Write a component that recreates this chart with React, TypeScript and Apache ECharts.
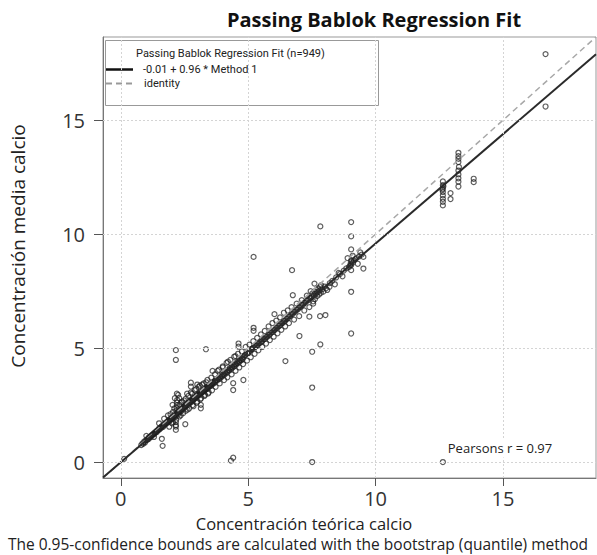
import React, { useEffect, useRef } from "react";
import * as echarts from "echarts";

// ---------- data ----------
const titleText = "Passing Bablok Regression Fit";
const xName = "Concentración teórica calcio";
const yName = "Concentración media calcio";
const footnote = "The 0.95-confidence bounds are calculated with the bootstrap (quantile) method";
const legendTitle = "Passing Bablok Regression Fit (n=949)";
const legendFit = "-0.01 + 0.96 * Method 1";
const legendIdentity = "identity";
const pearsonText = "Pearsons r = 0.97";

const xTicks = [0, 5, 10, 15];
const yTicks = [0, 5, 10, 15];
const axisMin = -0.7;
const axisMax = 18.65;

const fitIntercept = -0.01;
const fitSlope = 0.96;

const bandLow: number[][] = [
  [0.80, 0.74], [0.85, 0.82], [0.88, 0.80], [0.92, 0.90], [0.95, 0.86], [0.98, 0.95], [1.02, 0.97], [1.05, 0.99],
  [1.08, 1.06], [1.10, 1.02], [1.12, 1.10], [1.15, 1.08], [1.18, 1.15], [1.20, 1.12], [1.22, 1.19], [1.25, 1.20],
  [1.28, 1.22], [1.30, 1.27], [1.32, 1.24], [1.35, 1.31], [1.38, 1.30], [1.40, 1.36], [1.42, 1.33], [1.45, 1.41],
  [1.48, 1.40], [1.50, 1.47], [1.52, 1.44], [1.55, 1.52], [1.58, 1.49], [1.60, 1.55],
  [1.62, 1.58], [1.65, 1.54], [1.68, 1.63], [1.70, 1.60], [1.72, 1.69], [1.75, 1.66], [1.78, 1.72], [1.80, 1.70],
  [1.82, 1.78], [1.85, 1.75], [1.88, 1.83], [1.90, 1.80], [1.92, 1.88], [1.95, 1.84], [1.98, 1.92], [2.00, 1.90],
  [2.02, 1.97], [2.05, 1.93], [2.08, 2.02], [2.10, 1.98], [2.12, 2.06], [2.15, 2.01], [2.16, 1.62], [2.16, 1.75],
  [2.17, 1.85], [2.18, 2.12], [2.18, 2.25], [2.19, 2.38], [2.20, 2.50], [2.20, 2.62], [2.21, 2.72], [2.22, 2.15],
  [2.24, 2.08], [2.25, 2.20], [2.28, 2.16], [2.30, 2.25], [2.32, 2.21], [2.35, 2.30], [2.38, 2.26], [2.40, 2.35],
  [2.42, 2.31], [2.45, 2.41], [2.48, 2.36], [2.50, 2.45], [2.52, 2.42], [2.55, 2.50], [2.58, 2.47], [2.60, 2.55],
  [2.05, 2.20], [2.10, 2.35], [1.95, 2.10], [2.35, 2.05], [2.45, 2.15], [2.30, 2.52], [2.00, 1.70], [2.12, 2.80],
  [2.25, 2.95], [2.40, 2.65], [2.55, 2.78], [2.62, 2.30],
];

const bandMid: number[][] = [
  [2.62, 2.58], [2.65, 2.52], [2.68, 2.63], [2.70, 2.60], [2.72, 2.68], [2.75, 2.63], [2.78, 2.72], [2.80, 2.70],
  [2.82, 2.78], [2.85, 2.73], [2.88, 2.83], [2.90, 2.79], [2.92, 2.86], [2.95, 2.83], [2.98, 2.92], [3.00, 2.89],
  [3.02, 2.96], [3.05, 2.92], [3.08, 3.02], [3.10, 2.98], [3.12, 3.05], [3.15, 3.01], [3.18, 3.10], [3.20, 3.06],
  [3.22, 3.13], [3.25, 3.10], [3.28, 3.19], [3.30, 3.15], [3.32, 3.22], [3.35, 3.19], [3.38, 3.28], [3.40, 3.24],
  [3.42, 3.31], [3.45, 3.28], [3.48, 3.37], [3.50, 3.33], [3.52, 3.40], [3.55, 3.36], [3.58, 3.46], [3.60, 3.42],
  [2.75, 3.05], [2.90, 3.15], [3.05, 3.30], [3.20, 3.40], [3.35, 3.50], [3.00, 2.65], [3.15, 2.80], [3.30, 2.95],
  [3.45, 3.05], [2.85, 2.45],
  [3.62, 3.50], [3.65, 3.45], [3.68, 3.56], [3.70, 3.52], [3.74, 3.61], [3.78, 3.58], [3.82, 3.68], [3.85, 3.64],
  [3.88, 3.74], [3.92, 3.70], [3.95, 3.80], [3.98, 3.76], [4.02, 3.86], [4.05, 3.82], [4.08, 3.93], [4.12, 3.88],
  [4.15, 3.98], [4.18, 3.95], [4.22, 4.05], [4.25, 4.01], [4.28, 4.12], [4.32, 4.08], [4.35, 4.18], [4.38, 4.14],
  [4.42, 4.25], [4.45, 4.20], [4.48, 4.30], [4.52, 4.27], [4.55, 4.37], [4.58, 4.33], [4.62, 4.44], [4.65, 4.40],
  [4.68, 4.50], [4.72, 4.46], [4.75, 4.56], [4.78, 4.52], [3.80, 4.00], [4.00, 4.20], [4.20, 4.40], [4.50, 4.65],
];

const bandHigh: number[][] = [
  [4.82, 4.62], [4.86, 4.68], [4.90, 4.70], [4.95, 4.76], [5.00, 4.78], [5.04, 4.86], [5.08, 4.88], [5.12, 4.95],
  [5.16, 4.96], [5.20, 5.02], [5.25, 5.04], [5.30, 5.10], [5.35, 5.12], [5.40, 5.20], [5.45, 5.22], [5.50, 5.28],
  [5.55, 5.30], [5.60, 5.38], [5.65, 5.40], [5.70, 5.48], [5.75, 5.50], [5.80, 5.58], [5.85, 5.60], [5.90, 5.68],
  [5.95, 5.70], [6.00, 5.78], [6.05, 5.80], [6.10, 5.88], [6.15, 5.90], [6.20, 5.97],
  [6.25, 6.00], [6.30, 6.08], [6.35, 6.10], [6.40, 6.18], [6.45, 6.20], [6.50, 6.28], [6.55, 6.30], [6.60, 6.38],
  [6.65, 6.40], [6.70, 6.48], [6.75, 6.50], [6.80, 6.58], [6.85, 6.60], [6.90, 6.68], [6.95, 6.70], [7.00, 6.78],
  [7.05, 6.80], [7.10, 6.88], [7.15, 6.90], [7.20, 6.98], [7.25, 7.00], [7.30, 7.08], [7.35, 7.10], [7.40, 7.18],
  [7.45, 7.20],
  [7.50, 7.25], [7.52, 7.40], [7.55, 7.05], [7.58, 7.30], [7.60, 7.48], [7.62, 7.15], [7.65, 7.38], [7.68, 7.55],
  [7.70, 7.28], [7.72, 7.45], [7.75, 7.62], [7.78, 7.35], [7.80, 7.52], [7.82, 7.68], [7.85, 7.42], [7.90, 7.58],
  [7.95, 7.48], [8.00, 7.70], [8.05, 7.62], [8.10, 7.55], [7.60, 7.83], [7.86, 7.76], [8.19, 7.69],
  [8.30, 7.95], [8.45, 8.10], [8.60, 8.25], [8.75, 8.40], [8.85, 8.50], [8.95, 8.55], [9.00, 8.62], [9.02, 8.70],
  [9.05, 8.80], [9.10, 8.75], [9.15, 8.85], [9.20, 8.90], [9.25, 8.95], [9.35, 9.02], [9.45, 9.10],
];

const bandSpread: number[][] = [
  [1.70, 1.90], [1.85, 2.05], [1.90, 1.55], [2.05, 1.75], [2.30, 2.00], [2.38, 2.62], [2.48, 2.70], [2.55, 2.25],
  [2.65, 2.90], [2.68, 2.35], [2.80, 3.00], [2.82, 2.50], [2.95, 3.20], [2.98, 2.60], [3.10, 3.35], [3.12, 2.75],
  [3.25, 3.45], [3.28, 2.90], [3.40, 3.60], [3.42, 3.00], [3.55, 3.70], [3.58, 3.15], [3.70, 3.85], [3.72, 3.30],
  [3.85, 4.05], [3.88, 3.45], [4.00, 4.15], [4.05, 3.60], [4.15, 4.35], [4.18, 3.72], [4.30, 4.48], [4.35, 3.85],
  [4.45, 4.62], [4.50, 4.00], [4.60, 4.75], [4.65, 4.15], [4.75, 4.85], [4.80, 4.30], [4.90, 5.05], [4.95, 4.45],
  [5.05, 5.15], [5.10, 4.60], [5.20, 5.30], [5.25, 4.75], [5.35, 5.45], [5.40, 4.90], [5.50, 5.60], [5.55, 5.05],
  [5.65, 5.75], [5.70, 5.20], [5.80, 5.95], [5.85, 5.35], [5.95, 6.10], [6.00, 5.50], [6.10, 6.20], [6.15, 5.65],
  [6.25, 6.35], [6.30, 5.80], [6.40, 6.55], [6.45, 5.95], [6.55, 6.65], [6.60, 6.10], [6.70, 6.80], [6.80, 6.25],
  [6.90, 6.95], [7.00, 6.40], [7.10, 7.10], [7.20, 6.65], [7.30, 7.30], [7.40, 6.80], [7.45, 7.50], [7.55, 6.95],
  [8.20, 7.85], [8.40, 7.80], [8.55, 8.30], [8.70, 8.15], [8.90, 8.95], [9.10, 9.05], [9.30, 8.70], [9.40, 9.20],
  [3.00, 3.40], [2.60, 3.00], [2.20, 3.00], [3.60, 4.00], [1.50, 1.70], [1.30, 1.10], [1.00, 1.15],
];

const outliers: number[][] = [
  [16.67, 17.90], [16.67, 15.60],
  [12.64, 12.31], [12.64, 12.15], [12.64, 12.00], [12.64, 11.85], [12.64, 11.70], [12.64, 11.55], [12.64, 11.42],
  [12.64, 11.26], [12.66, 12.10], [12.62, 11.95], [12.94, 11.80], [12.94, 11.54],
  [13.25, 13.57], [13.25, 13.42], [13.25, 13.30], [13.25, 13.16], [13.25, 12.79], [13.25, 12.62], [13.25, 12.45],
  [13.25, 12.30], [13.25, 12.09], [13.27, 12.95], [13.85, 12.43], [13.85, 12.28],
  [7.83, 10.34], [9.04, 10.53], [9.04, 9.90], [9.04, 9.33], [9.04, 8.85], [9.04, 8.64], [9.04, 8.42],
  [9.52, 9.00], [9.52, 8.49], [9.04, 7.47], [9.04, 5.64],
  [5.21, 9.00], [6.72, 8.42], [6.75, 7.32],
  [7.51, 4.84], [7.51, 3.27], [7.51, 0.0], [12.64, 0.0], [7.83, 5.16], [8.03, 6.45], [7.82, 6.40], [7.40, 6.38],
  [7.01, 5.53], [6.46, 4.43],
  [2.16, 4.91], [2.16, 4.48], [3.34, 4.95], [4.32, 0.06], [4.41, 0.19], [1.61, 1.02], [1.64, 0.71], [0.13, 0.14],
  [4.81, 3.60], [4.41, 3.46], [4.41, 3.16], [5.21, 5.89], [5.21, 5.76], [4.62, 5.20], [4.62, 5.06], [6.03, 6.49],
  [2.53, 1.66], [2.16, 1.41], [2.16, 1.56], [2.75, 3.48], [2.75, 3.31], [3.14, 2.51], [3.14, 2.36], [2.29, 2.80],
  [2.03, 2.51],
];

const points = [...bandLow, ...bandMid, ...bandHigh, ...bandSpread, ...outliers];

export default function App() {
  const ref = useRef<HTMLDivElement>(null);

  useEffect(() => {
    if (!ref.current) return;
    const chart = echarts.init(ref.current, null, { renderer: "svg" });
    const font = "'Open Sans', 'Noto Sans', sans-serif";
    const textColor = "#222";

    const fitLine = [
      [axisMin, fitIntercept + fitSlope * axisMin],
      [axisMax, fitIntercept + fitSlope * axisMax],
    ];
    const identityLine = [
      [axisMin, axisMin],
      [axisMax, axisMax],
    ];

    const axisCommon = {
      type: "value" as const,
      min: axisMin,
      max: axisMax,
      splitLine: { show: false },
      axisLine: { show: true, onZero: false, lineStyle: { color: "#777", width: 1 } },
    };

    chart.setOption({
      animation: false,
      grid: {
        left: 103,
        right: 1,
        top: 37,
        bottom: 77,
        show: true,
        borderColor: "#999",
        borderWidth: 1,
        backgroundColor: "#fff",
      },
      xAxis: {
        ...axisCommon,
        axisTick: { show: true, length: 8, customValues: xTicks, lineStyle: { color: "#555" } },
        axisLabel: {
          customValues: xTicks,
          margin: 11,
          fontSize: 20,
          lineHeight: 18,
          color: "#333",
          fontFamily: font,
        },
      },
      yAxis: {
        ...axisCommon,
        axisTick: { show: true, length: 9, customValues: yTicks, lineStyle: { color: "#555" } },
        axisLabel: {
          customValues: yTicks,
          margin: 18,
          fontSize: 20,
          color: "#333",
          fontFamily: font,
        },
      },
      series: [
        {
          type: "line",
          data: [],
          z: 1,
          silent: true,
          markLine: {
            silent: true,
            symbol: ["none", "none"],
            label: { show: false },
            lineStyle: { type: [2, 2], color: "#d4d4d4", width: 1 },
            data: [
              ...xTicks.map((v) => ({ xAxis: v })),
              ...yTicks.map((v) => ({ yAxis: v })),
            ],
          },
        },
        {
          type: "scatter",
          data: points,
          z: 2,
          symbol: "circle",
          symbolSize: 5,
          itemStyle: {
            color: "rgba(255,255,255,0)",
            borderColor: "rgba(30,30,30,0.9)",
            borderWidth: 1.2,
          },
        },
        {
          type: "line",
          data: identityLine,
          z: 3,
          showSymbol: false,
          symbol: "none",
          lineStyle: { color: "#a8a8a8", width: 1.5, type: [6, 4] },
        },
        {
          type: "line",
          data: fitLine,
          z: 4,
          showSymbol: false,
          symbol: "none",
          lineStyle: { color: "#2a2a2a", width: 2 },
        },
      ],
      graphic: [
        {
          type: "text",
          x: 374,
          y: 19,
          style: {
            text: titleText,
            font: `bold 20px ${font}`,
            fill: "#111",
            textAlign: "center",
            textVerticalAlign: "middle",
          },
        },
        {
          type: "text",
          x: 18,
          y: 246,
          rotation: Math.PI / 2,
          style: {
            text: yName,
            font: `19px ${font}`,
            fill: textColor,
            textAlign: "center",
            textVerticalAlign: "middle",
          },
        },
        {
          type: "text",
          x: 304,
          y: 523,
          style: {
            text: xName,
            font: `16.5px ${font}`,
            lineHeight: 16,
            fill: textColor,
            textAlign: "center",
            textVerticalAlign: "middle",
          },
        },
        {
          type: "text",
          x: 298,
          y: 544,
          style: {
            text: footnote,
            font: `15.5px ${font}`,
            lineHeight: 16,
            fill: textColor,
            textAlign: "center",
            textVerticalAlign: "middle",
          },
        },
        {
          type: "text",
          x: 500,
          y: 448,
          z: 10,
          style: {
            text: pearsonText,
            font: `13px ${font}`,
            fill: textColor,
            textAlign: "center",
            textVerticalAlign: "middle",
            backgroundColor: "#fff",
            padding: [3, 6],
          },
        },
        {
          type: "group",
          z: 10,
          children: [
            {
              type: "rect",
              shape: { x: 105.5, y: 40.5, width: 273, height: 65 },
              style: { fill: "#fff", stroke: "#999", lineWidth: 1 },
            },
            {
              type: "text",
              x: 136,
              y: 53,
              style: {
                text: legendTitle,
                font: `11px Roboto, ${font}`,
                fill: textColor,
                textAlign: "left",
                textVerticalAlign: "middle",
              },
            },
            {
              type: "line",
              shape: { x1: 106, y1: 69.5, x2: 133, y2: 69.5 },
              style: { stroke: "#111", lineWidth: 2.5 },
            },
            {
              type: "text",
              x: 143,
              y: 69,
              style: {
                text: legendFit,
                font: `11px Roboto, ${font}`,
                fill: textColor,
                textAlign: "left",
                textVerticalAlign: "middle",
              },
            },
            {
              type: "line",
              shape: { x1: 106, y1: 83.5, x2: 133, y2: 83.5 },
              style: { stroke: "#999", lineWidth: 2, lineDash: [6, 4] },
            },
            {
              type: "text",
              x: 144,
              y: 83,
              style: {
                text: legendIdentity,
                font: `11px Roboto, ${font}`,
                fill: textColor,
                textAlign: "left",
                textVerticalAlign: "middle",
              },
            },
          ],
        },
      ],
    });

    return () => chart.dispose();
  }, []);

  return (
    <div
      ref={ref}
      style={{ position: "fixed", left: 0, top: 0, width: 597, height: 555, background: "#fff" }}
    />
  );
}
